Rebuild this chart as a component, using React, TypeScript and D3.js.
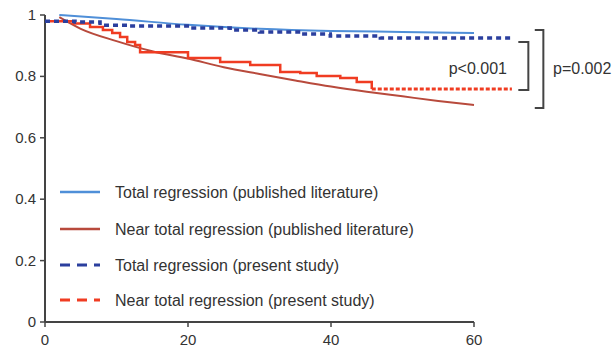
import React from "react";
import * as d3 from "d3";

// ---- data ----
const xTicks = [0, 20, 40, 60];
const yTicks = [0, 0.2, 0.4, 0.6, 0.8, 1];
const yTickLabels = ["0", "0.2", "0.4", "0.6", "0.8", "1"];

// Published literature curves (smooth)
const pubTotalT = [2, 10, 20, 30, 40, 50, 60];
const pubTotalV = [1.0, 0.987, 0.968, 0.955, 0.948, 0.945, 0.941];
const pubNearT = [2, 5, 10, 15, 20, 25, 30, 35, 40, 45, 50, 55, 60];
const pubNearV = [0.993, 0.955, 0.915, 0.882, 0.858, 0.83, 0.808, 0.787, 0.767, 0.75, 0.735, 0.72, 0.707];

// Present study (Kaplan-Meier steps)
const presTotalT = [0, 4.2, 7.7, 11.9, 20.3, 25.9, 30, 35.7, 39.9, 46.9, 65.3];
const presTotalV = [0.98, 0.977, 0.967, 0.964, 0.958, 0.951, 0.945, 0.938, 0.932, 0.925, 0.925];
const presNearT = [0, 3.9, 6.3, 8.1, 9.4, 10.5, 11.5, 12.6, 13.3, 20, 24.5, 28.7, 32.9, 35.7, 38, 41.3, 43.6, 45.7, 65.3];
const presNearV = [0.98, 0.972, 0.961, 0.951, 0.941, 0.928, 0.912, 0.902, 0.879, 0.86, 0.847, 0.837, 0.814, 0.811, 0.801, 0.795, 0.782, 0.759, 0.759];

const legendLabels = [
  "Total regression (published literature)",
  "Near total regression (published literature)",
  "Total regression (present study)",
  "Near total regression (present study)",
];

const pLabels = ["p<0.001", "p=0.002"];
const bracketSmall = [0.912, 0.756];
const bracketLarge = [0.951, 0.697];

// ---- styles ----
const C_PUB_TOTAL = "#4f8fd8";
const C_PUB_NEAR = "#b84a3c";
const C_PRES_TOTAL = "#2b3f9e";
const C_PRES_NEAR = "#f03c22";
const C_AXIS = "#444";
const C_TEXT = "#333";
const FONT = "'Liberation Sans', Arial, sans-serif";

export default function App() {
  const x = d3.scaleLinear().domain([0, 60]).range([45, 474]);
  const y = d3.scaleLinear().domain([0, 1]).range([322, 15]);

  const smooth = d3
    .line<[number, number]>()
    .x((d) => x(d[0]))
    .y((d) => y(d[1]))
    .curve(d3.curveMonotoneX);
  const step = d3
    .line<[number, number]>()
    .x((d) => x(d[0]))
    .y((d) => y(d[1]))
    .curve(d3.curveStepAfter);

  const zip = (t: number[], v: number[]) => t.map((tt, i) => [tt, v[i]] as [number, number]);

  const pubTotal = zip(pubTotalT, pubTotalV);
  const pubNear = zip(pubNearT, pubNearV);
  const presTotal = zip(presTotalT, presTotalV);
  const presNear = zip(presNearT, presNearV);
  const presNearSteps = presNear.slice(0, presNear.length - 1);
  const presNearTail = presNear.slice(presNear.length - 2);

  const legendColors = [C_PUB_TOTAL, C_PUB_NEAR, C_PRES_TOTAL, C_PRES_NEAR];
  const legendDash = [null, null, "10,7", "10,7"];
  const legendY = [192, 229, 265, 300];

  const bx1 = x(66.2), bx2 = x(67.6);
  const lx1 = x(68.5), lx2 = x(69.7);

  return (
    <svg width={616} height={348} style={{ position: "absolute", left: 0, top: 0, background: "#fff" }} fontFamily={FONT}>
      <rect width={616} height={348} fill="#fff" />
      {/* axes */}
      <line x1={x(0)} x2={x(60)} y1={y(0)} y2={y(0)} stroke={C_AXIS} strokeWidth={2} />
      <line x1={x(0)} x2={x(0)} y1={y(0)} y2={y(1)} stroke={C_AXIS} strokeWidth={2} />
      {yTicks.map((t, i) => (
        <g key={"y" + i}>
          <line x1={x(0) - 5} x2={x(0)} y1={y(t)} y2={y(t)} stroke={C_AXIS} strokeWidth={1.5} />
          <text x={36} y={y(t) + 5} textAnchor="end" fontSize={15} fill={C_TEXT}>
            {yTickLabels[i]}
          </text>
        </g>
      ))}
      {xTicks.map((t, i) => (
        <g key={"x" + i}>
          <line x1={x(t)} x2={x(t)} y1={y(0)} y2={y(0) + 5} stroke={C_AXIS} strokeWidth={1.5} />
          <text x={x(t)} y={345} textAnchor="middle" fontSize={15} fill={C_TEXT}>
            {xTicks[i]}
          </text>
        </g>
      ))}

      {/* curves */}
      <path d={smooth(pubNear) || ""} fill="none" stroke={C_PUB_NEAR} strokeWidth={2} />
      <path d={smooth(pubTotal) || ""} fill="none" stroke={C_PUB_TOTAL} strokeWidth={2} />
      <path d={step(presNearSteps) || ""} fill="none" stroke={C_PRES_NEAR} strokeWidth={2.5} />
      <path d={step(presNearTail) || ""} fill="none" stroke={C_PRES_NEAR} strokeWidth={3} strokeDasharray="4,2" />
      <path d={step(presTotal) || ""} fill="none" stroke={C_PRES_TOTAL} strokeWidth={3.5} strokeDasharray="5,4" />

      {/* brackets */}
      <path
        d={`M${bx1},${y(bracketSmall[0])}H${bx2}V${y(bracketSmall[1])}H${bx1}`}
        fill="none"
        stroke={C_AXIS}
        strokeWidth={2}
      />
      <path
        d={`M${lx1},${y(bracketLarge[0])}H${lx2}V${y(bracketLarge[1])}H${lx1}`}
        fill="none"
        stroke={C_AXIS}
        strokeWidth={2}
      />
      <text x={507} y={74} textAnchor="end" fontSize={16} fill={C_TEXT}>
        {pLabels[0]}
      </text>
      <text x={553} y={74} textAnchor="start" fontSize={16} fill={C_TEXT}>
        {pLabels[1]}
      </text>

      {/* legend */}
      {legendLabels.map((l, i) => (
        <g key={"lg" + i}>
          <line
            x1={60}
            x2={100}
            y1={legendY[i]}
            y2={legendY[i]}
            stroke={legendColors[i]}
            strokeWidth={i >= 2 ? 3 : 2.5}
            strokeDasharray={legendDash[i] || undefined}
          />
          <text x={115} y={legendY[i] + 6} fontSize={16} fill={C_TEXT}>
            {l}
          </text>
        </g>
      ))}
    </svg>
  );
}
